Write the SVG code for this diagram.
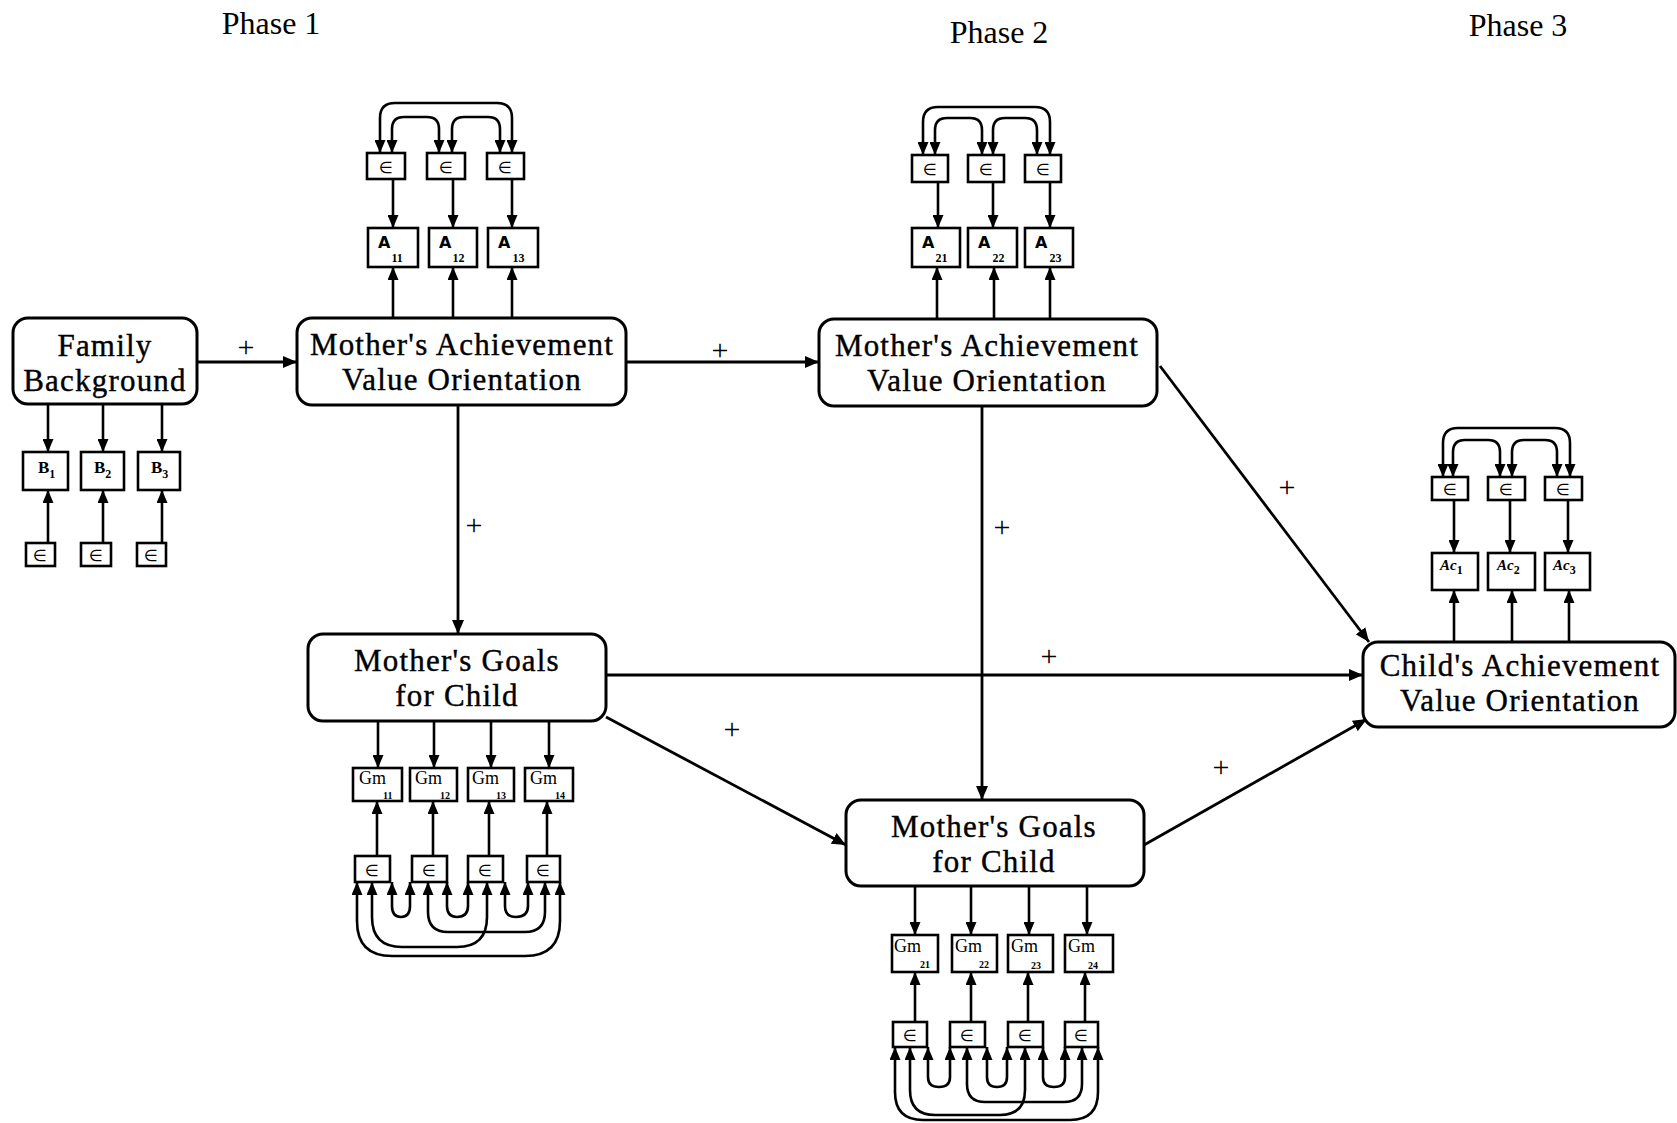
<svg xmlns="http://www.w3.org/2000/svg" width="1677" height="1123" viewBox="0 0 1677 1123">
<style>
.nb{fill:#fff;stroke:#000;stroke-width:3}
.sb{fill:#fff;stroke:#000;stroke-width:2.6}
.lbl{font-family:"Liberation Serif",serif;font-size:31px;letter-spacing:1.2px;text-anchor:middle;fill:#000;stroke:#000;stroke-width:0.4}
.ph{font-family:"Liberation Serif",serif;font-size:32px;text-anchor:middle;fill:#000}
.pl{font-family:"Liberation Serif",serif;font-size:30px;text-anchor:middle;fill:#000}
.eps{font-family:"DejaVu Sans",sans-serif;font-size:16px;text-anchor:middle;fill:#000}
.av{font-family:"DejaVu Sans",sans-serif;font-weight:bold;font-size:16px;fill:#000}
.sub{font-family:"Liberation Serif",serif;font-weight:bold;font-size:12px;fill:#000;font-style:normal}
.gs{font-family:"Liberation Serif",serif;font-weight:bold;font-size:10px;fill:#000}
.gm{font-family:"Liberation Serif",serif;font-size:18px;fill:#000}
.bb{font-family:"Liberation Serif",serif;font-weight:bold;font-size:17px;fill:#000}
.ac{font-family:"Liberation Serif",serif;font-style:italic;font-weight:bold;font-size:15px;fill:#000}
.c{stroke:#000;stroke-width:2.8;fill:none;marker-end:url(#ah)}
.s{stroke:#000;stroke-width:2.6;fill:none;marker-end:url(#as)}
.d{stroke:#000;stroke-width:2.6;fill:none;marker-start:url(#as);marker-end:url(#as)}
</style>
<defs>
<marker id="ah" viewBox="0 0 14 12" refX="14" refY="6" markerWidth="14" markerHeight="12" orient="auto-start-reverse" markerUnits="userSpaceOnUse"><path d="M0,0 L14,6 L0,12 z" fill="#000"/></marker>
<marker id="as" viewBox="0 0 13 11" refX="13" refY="5.5" markerWidth="13" markerHeight="11" orient="auto-start-reverse" markerUnits="userSpaceOnUse"><path d="M0,0 L13,5.5 L0,11 z" fill="#000"/></marker>
</defs>
<rect width="1677" height="1123" fill="#fff"/>

<g id="phases">
<text class="ph" x="271" y="34">Phase 1</text>
<text class="ph" x="999" y="43">Phase 2</text>
<text class="ph" x="1518" y="36">Phase 3</text>
</g>

<g id="connectors">
<line class="c" x1="197" y1="362" x2="297" y2="362"/>
<line class="c" x1="626" y1="362" x2="819" y2="362"/>
<line class="c" x1="458" y1="405" x2="458" y2="634"/>
<line class="c" x1="982" y1="406" x2="982" y2="800"/>
<line class="c" x1="1160" y1="366" x2="1369" y2="642"/>
<line class="c" x1="606" y1="675" x2="1363" y2="675"/>
<line class="c" x1="606" y1="717" x2="846" y2="845"/>
<line class="c" x1="1144" y1="845" x2="1367" y2="719"/>
<text class="pl" x="246" y="357">+</text>
<text class="pl" x="720" y="360">+</text>
<text class="pl" x="474" y="535">+</text>
<text class="pl" x="1002" y="537">+</text>
<text class="pl" x="1287" y="497">+</text>
<text class="pl" x="1049" y="666">+</text>
<text class="pl" x="732" y="739">+</text>
<text class="pl" x="1221" y="777">+</text>
</g>

<g id="family-background">
<rect class="nb" x="13" y="318" width="184" height="86" rx="15"/>
<text class="lbl" x="105" y="356">Family</text>
<text class="lbl" x="105" y="390.5">Background</text>
</g>

<g id="fb-indicators">
<line class="s" x1="48" y1="404" x2="48" y2="452"/>
<line class="s" x1="103" y1="404" x2="103" y2="452"/>
<line class="s" x1="162" y1="404" x2="162" y2="452"/>
<rect class="sb" x="23" y="452" width="45" height="38"/>
<rect class="sb" x="81" y="452" width="43" height="38"/>
<rect class="sb" x="138" y="452" width="42" height="38"/>
<text class="bb" x="38" y="473">B<tspan class="sub" dy="5">1</tspan></text>
<text class="bb" x="94" y="473">B<tspan class="sub" dy="5">2</tspan></text>
<text class="bb" x="151" y="473">B<tspan class="sub" dy="5">3</tspan></text>
<line class="s" x1="48" y1="543" x2="48" y2="490"/>
<line class="s" x1="103" y1="543" x2="103" y2="490"/>
<line class="s" x1="162" y1="543" x2="162" y2="490"/>
<rect class="sb" x="26" y="543" width="29" height="23"/>
<rect class="sb" x="81" y="543" width="30" height="23"/>
<rect class="sb" x="137" y="543" width="29" height="23"/>
<text class="eps" x="40" y="561">∈</text>
<text class="eps" x="96" y="561">∈</text>
<text class="eps" x="151" y="561">∈</text>
</g>

<g id="mavo1">
<rect class="nb" x="297" y="318" width="329" height="87" rx="15"/>
<text class="lbl" x="462" y="355">Mother's Achievement</text>
<text class="lbl" x="462" y="389.5">Value Orientation</text>
</g>

<g id="mavo1-indicators">
<path class="d" d="M380,153 V118 Q380,103 395,103 H497 Q512,103 512,118 V153"/>
<path class="d" d="M392,153 V129 Q392,117 404,117 H427 Q439,117 439,129 V153"/>
<path class="d" d="M452,153 V129 Q452,117 464,117 H488 Q500,117 500,129 V153"/>
<rect class="sb" x="367" y="153" width="38" height="26"/>
<rect class="sb" x="427" y="153" width="38" height="26"/>
<rect class="sb" x="487" y="153" width="37" height="26"/>
<text class="eps" x="386" y="173">∈</text>
<text class="eps" x="446" y="173">∈</text>
<text class="eps" x="505" y="173">∈</text>
<line class="s" x1="393" y1="179" x2="393" y2="228"/>
<line class="s" x1="453" y1="179" x2="453" y2="228"/>
<line class="s" x1="512" y1="179" x2="512" y2="228"/>
<rect class="sb" x="368" y="228" width="50" height="39"/>
<rect class="sb" x="429" y="228" width="48" height="39"/>
<rect class="sb" x="488" y="228" width="50" height="39"/>
<text class="av" x="378" y="248">A<tspan class="sub" dx="1" dy="14">11</tspan></text>
<text class="av" x="439" y="248">A<tspan class="sub" dx="1" dy="14">12</tspan></text>
<text class="av" x="498" y="248">A<tspan class="sub" dx="2" dy="14">13</tspan></text>
<line class="s" x1="393" y1="318" x2="393" y2="267"/>
<line class="s" x1="453" y1="318" x2="453" y2="267"/>
<line class="s" x1="512" y1="318" x2="512" y2="267"/>
</g>

<g id="mavo2">
<rect class="nb" x="819" y="319" width="338" height="87" rx="15"/>
<text class="lbl" x="987" y="356">Mother's Achievement</text>
<text class="lbl" x="987" y="390.5">Value Orientation</text>
</g>

<g id="mavo2-indicators">
<path class="d" d="M923,155 V122 Q923,107 938,107 H1035 Q1050,107 1050,122 V155"/>
<path class="d" d="M935,155 V130 Q935,118 947,118 H970 Q982,118 982,130 V155"/>
<path class="d" d="M993,155 V130 Q993,118 1005,118 H1025 Q1037,118 1037,130 V155"/>
<rect class="sb" x="912" y="155" width="36" height="27"/>
<rect class="sb" x="968" y="155" width="36" height="27"/>
<rect class="sb" x="1025" y="155" width="36" height="27"/>
<text class="eps" x="930" y="175">∈</text>
<text class="eps" x="986" y="175">∈</text>
<text class="eps" x="1043" y="175">∈</text>
<line class="s" x1="938" y1="182" x2="938" y2="228"/>
<line class="s" x1="993" y1="182" x2="993" y2="228"/>
<line class="s" x1="1050" y1="182" x2="1050" y2="228"/>
<rect class="sb" x="912" y="228" width="48" height="39"/>
<rect class="sb" x="968" y="228" width="49" height="39"/>
<rect class="sb" x="1025" y="228" width="48" height="39"/>
<text class="av" x="922" y="248">A<tspan class="sub" dx="1" dy="14">21</tspan></text>
<text class="av" x="978" y="248">A<tspan class="sub" dx="2" dy="14">22</tspan></text>
<text class="av" x="1035" y="248">A<tspan class="sub" dx="2" dy="14">23</tspan></text>
<line class="s" x1="937" y1="319" x2="937" y2="267"/>
<line class="s" x1="994" y1="319" x2="994" y2="267"/>
<line class="s" x1="1050" y1="319" x2="1050" y2="267"/>
</g>

<g id="mg1">
<rect class="nb" x="308" y="634" width="298" height="87" rx="15"/>
<text class="lbl" x="457" y="671">Mother's Goals</text>
<text class="lbl" x="457" y="705.5">for Child</text>
</g>

<g id="mg1-indicators">
<line class="s" x1="378" y1="721" x2="378" y2="768"/>
<line class="s" x1="434" y1="721" x2="434" y2="768"/>
<line class="s" x1="491" y1="721" x2="491" y2="768"/>
<line class="s" x1="549" y1="721" x2="549" y2="768"/>
<rect class="sb" x="353" y="768" width="49" height="33"/>
<rect class="sb" x="410" y="768" width="47" height="33"/>
<rect class="sb" x="468" y="768" width="46" height="33"/>
<rect class="sb" x="525" y="768" width="48" height="33"/>
<text class="gm" x="359" y="784">Gm</text><text class="gs" x="383" y="799">11</text>
<text class="gm" x="415" y="784">Gm</text><text class="gs" x="440" y="799">12</text>
<text class="gm" x="472" y="784">Gm</text><text class="gs" x="496" y="799">13</text>
<text class="gm" x="530" y="784">Gm</text><text class="gs" x="555" y="799">14</text>
<line class="s" x1="377" y1="856" x2="377" y2="801"/>
<line class="s" x1="433" y1="856" x2="433" y2="801"/>
<line class="s" x1="489" y1="856" x2="489" y2="801"/>
<line class="s" x1="547" y1="856" x2="547" y2="801"/>
<rect class="sb" x="355" y="856" width="35" height="26"/>
<rect class="sb" x="412" y="856" width="35" height="26"/>
<rect class="sb" x="468" y="856" width="35" height="26"/>
<rect class="sb" x="527" y="856" width="33" height="26"/>
<text class="eps" x="372" y="876">∈</text>
<text class="eps" x="429" y="876">∈</text>
<text class="eps" x="485" y="876">∈</text>
<text class="eps" x="543" y="876">∈</text>
<path class="d" d="M392,882 V906 Q392,917 401,917 Q410,917 410,906 V882"/>
<path class="d" d="M447,882 V906 Q447,917 457,917 Q468,917 468,906 V882"/>
<path class="d" d="M505,882 V906 Q505,917 516,917 Q528,917 528,906 V882"/>
<path class="d" d="M428,882 V912 Q428,932 448,932 H525 Q545,932 545,912 V882"/>
<path class="d" d="M372,882 V917 Q372,947 402,947 H457 Q487,947 487,917 V882"/>
<path class="d" d="M357,882 V921 Q357,956 392,956 H525 Q560,956 560,921 V882"/>
</g>

<g id="mg2">
<rect class="nb" x="846" y="800" width="298" height="86" rx="15"/>
<text class="lbl" x="994" y="837">Mother's Goals</text>
<text class="lbl" x="994" y="871.5">for Child</text>
</g>

<g id="mg2-indicators">
<line class="s" x1="915" y1="886" x2="915" y2="935"/>
<line class="s" x1="971" y1="886" x2="971" y2="935"/>
<line class="s" x1="1029" y1="886" x2="1029" y2="935"/>
<line class="s" x1="1087" y1="886" x2="1087" y2="935"/>
<rect class="sb" x="892" y="935" width="46" height="37"/>
<rect class="sb" x="952" y="935" width="45" height="37"/>
<rect class="sb" x="1008" y="935" width="45" height="37"/>
<rect class="sb" x="1065" y="935" width="48" height="37"/>
<text class="gm" x="894" y="952">Gm</text><text class="gs" x="920" y="968">21</text>
<text class="gm" x="955" y="952">Gm</text><text class="gs" x="979" y="968">22</text>
<text class="gm" x="1011" y="952">Gm</text><text class="gs" x="1031" y="969">23</text>
<text class="gm" x="1068" y="952">Gm</text><text class="gs" x="1088" y="969">24</text>
<line class="s" x1="915" y1="1022" x2="915" y2="972"/>
<line class="s" x1="971" y1="1022" x2="971" y2="972"/>
<line class="s" x1="1028" y1="1022" x2="1028" y2="972"/>
<line class="s" x1="1085" y1="1022" x2="1085" y2="972"/>
<rect class="sb" x="893" y="1022" width="34" height="25"/>
<rect class="sb" x="950" y="1022" width="35" height="25"/>
<rect class="sb" x="1008" y="1022" width="35" height="25"/>
<rect class="sb" x="1065" y="1022" width="33" height="25"/>
<text class="eps" x="910" y="1041">∈</text>
<text class="eps" x="967" y="1041">∈</text>
<text class="eps" x="1025" y="1041">∈</text>
<text class="eps" x="1081" y="1041">∈</text>
<path class="d" d="M928,1047 V1077 Q928,1087 939,1087 Q950,1087 950,1077 V1047"/>
<path class="d" d="M987,1047 V1077 Q987,1087 997,1087 Q1007,1087 1007,1077 V1047"/>
<path class="d" d="M1043,1047 V1077 Q1043,1087 1054,1087 Q1065,1087 1065,1077 V1047"/>
<path class="d" d="M967,1047 V1084 Q967,1102 985,1102 H1064 Q1082,1102 1082,1084 V1047"/>
<path class="d" d="M910,1047 V1090 Q910,1115 935,1115 H1000 Q1025,1115 1025,1090 V1047"/>
<path class="d" d="M895,1047 V1092 Q895,1120 923,1120 H1070 Q1098,1120 1098,1092 V1047"/>
</g>

<g id="cavo">
<rect class="nb" x="1363" y="642" width="312" height="85" rx="15"/>
<text class="lbl" x="1520" y="676">Child's Achievement</text>
<text class="lbl" x="1520" y="710.5">Value Orientation</text>
</g>

<g id="cavo-indicators">
<path class="d" d="M1443,477 V443 Q1443,428 1458,428 H1555 Q1570,428 1570,443 V477"/>
<path class="d" d="M1453,477 V452 Q1453,440 1465,440 H1488 Q1500,440 1500,452 V477"/>
<path class="d" d="M1512,477 V452 Q1512,440 1524,440 H1545 Q1557,440 1557,452 V477"/>
<rect class="sb" x="1432" y="477" width="36" height="23"/>
<rect class="sb" x="1488" y="477" width="37" height="23"/>
<rect class="sb" x="1545" y="477" width="37" height="23"/>
<text class="eps" x="1450" y="495">∈</text>
<text class="eps" x="1506" y="495">∈</text>
<text class="eps" x="1563" y="495">∈</text>
<line class="s" x1="1454" y1="500" x2="1454" y2="553"/>
<line class="s" x1="1510" y1="500" x2="1510" y2="553"/>
<line class="s" x1="1568" y1="500" x2="1568" y2="553"/>
<rect class="sb" x="1432" y="553" width="46" height="37"/>
<rect class="sb" x="1488" y="553" width="47" height="37"/>
<rect class="sb" x="1545" y="553" width="45" height="37"/>
<text class="ac" x="1440" y="570">Ac<tspan class="sub" dy="4">1</tspan></text>
<text class="ac" x="1497" y="570">Ac<tspan class="sub" dy="4">2</tspan></text>
<text class="ac" x="1553" y="570">Ac<tspan class="sub" dy="4">3</tspan></text>
<line class="s" x1="1454" y1="642" x2="1454" y2="590"/>
<line class="s" x1="1512" y1="642" x2="1512" y2="590"/>
<line class="s" x1="1569" y1="642" x2="1569" y2="590"/>
</g>
</svg>
